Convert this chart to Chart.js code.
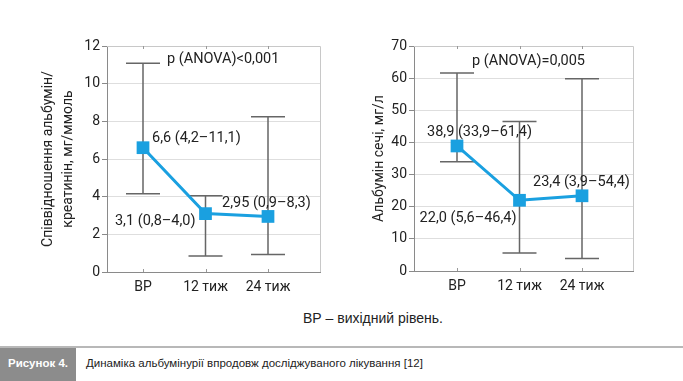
<!DOCTYPE html>
<html><head><meta charset="utf-8">
<script src="https://cdn.jsdelivr.net/npm/chart.js@4"></script>
<style>
html,body{margin:0;padding:0;background:#fff;}
#wrap{position:relative;width:683px;height:381px;overflow:hidden;background:#fff;}
canvas{position:absolute;top:0;}
#c1{left:0;} #c2{left:340px;}
.note{position:absolute;font-family:"Liberation Sans Narrow","Liberation Sans",sans-serif;color:#222;white-space:nowrap;}
</style></head><body>
<div id="wrap">
<canvas id="c1" width="340" height="300"></canvas>
<canvas id="c2" width="343" height="300"></canvas>
<div class="note" style="left:303px;top:309px;font-size:14px;line-height:18px;">ВР – вихідний рівень.</div>
<div style="position:absolute;left:0;top:346px;width:683px;height:2px;background:#b8b8b8"></div>
<div class="note" style="left:0;top:348px;width:76px;height:33px;background:#8c8c8c;color:#fff;font-weight:bold;font-size:11.5px;line-height:31px;text-align:center;">Рисунок 4.</div>
<div class="note" style="left:86px;top:348px;font-size:11.5px;line-height:31px;">Динаміка альбумінурії впродовж досліджуваного лікування [12]</div>
</div>
<script>
// ---- data ----
const categories = ['ВР', '12 тиж', '24 тиж'];
// left panel: albumin/creatinine ratio
const acrMedian = [6.6, 3.1, 2.95];
const acrLow = [4.15, 0.85, 0.93];
const acrHigh = [11.08, 4.05, 8.25];
const acrLabels = ['6,6 (4,2–11,1)', '3,1 (0,8–4,0)', '2,95 (0,9–8,3)'];
// right panel: urine albumin
const albMedian = [38.9, 22.0, 23.4];
const albLow = [34.0, 5.6, 3.9];
const albHigh = [61.6, 46.5, 59.8];
const albLabels = ['38,9 (33,9–61,4)', '22,0 (5,6–46,4)', '23,4 (3,9–54,4)'];
const acrTickMax = 12, acrTickStep = 2;
const albTickMax = 70, albTickStep = 10;
const acrTitle = ['Співвідношення альбумін/', 'креатинін, мг/ммоль'];
const albTitle = 'Альбумін сечі, мг/л';
const acrP = 'p (ANOVA)<0,001';
const albP = 'p (ANOVA)=0,005';

const BLUE = '#1aa0e0';
const TXT = '#222';
const FONT = 'Roboto, "Open Sans", sans-serif';

function makeChart(id, o) {
  const pts = categories.map((c, i) => ({x: i + 1, y: o.median[i]}));
  const plugin = {
    id: 'extras' + id,
    beforeDatasetsDraw(chart) {
      const {ctx, chartArea: a, scales: {x, y}} = chart;
      ctx.save();
      ctx.strokeStyle = '#c8c8c8'; ctx.lineWidth = 1;
      ctx.beginPath();
      ctx.moveTo(a.left, a.top + 0.5); ctx.lineTo(a.right + 0.5, a.top + 0.5);
      ctx.lineTo(a.right + 0.5, a.bottom);
      ctx.stroke();
      ctx.strokeStyle = '#999';
      categories.forEach((c, i) => {
        const px = Math.round(x.getPixelForValue(i + 1)) + 0.5;
        ctx.beginPath();
        ctx.moveTo(px, a.bottom); ctx.lineTo(px, a.bottom - 3);
        ctx.moveTo(px, a.top); ctx.lineTo(px, a.top + 3);
        ctx.stroke();
      });
      ctx.strokeStyle = '#666'; ctx.lineWidth = 1.5;
      categories.forEach((c, i) => {
        const px = x.getPixelForValue(i + 1);
        const yl = y.getPixelForValue(o.low[i]);
        const yh = y.getPixelForValue(o.high[i]);
        ctx.beginPath();
        ctx.moveTo(px, yl); ctx.lineTo(px, yh);
        ctx.moveTo(px - 17, yl); ctx.lineTo(px + 17, yl);
        ctx.moveTo(px - 17, yh); ctx.lineTo(px + 17, yh);
        ctx.stroke();
      });
      ctx.restore();
    },
    afterDatasetsDraw(chart) {
      const {ctx, scales: {x, y}} = chart;
      ctx.save();
      ctx.fillStyle = TXT;
      ctx.font = '14.5px ' + FONT;
      ctx.textBaseline = 'middle';
      ctx.textAlign = 'left';
      ctx.fillText(o.pText, o.pPos[0], o.pPos[1]);
      categories.forEach((c, i) => {
        const px = x.getPixelForValue(i + 1);
        const py = y.getPixelForValue(o.median[i]);
        const off = o.offsets[i];
        ctx.textAlign = off.align;
        ctx.fillText(o.labels[i], px + off.dx, py + off.dy);
      });
      ctx.restore();
    }
  };
  return new Chart(document.getElementById(id), {
    type: 'line',
    data: {datasets: [{
      data: pts, borderColor: BLUE, backgroundColor: BLUE, borderWidth: 3,
      pointStyle: 'rect', pointRadius: 9, pointHoverRadius: 9, pointBorderWidth: 0,
      tension: 0
    }]},
    options: {
      responsive: false, animation: false, devicePixelRatio: 1,
      layout: {padding: {left: 0, top: 46, right: o.padRight, bottom: 0}},
      plugins: {legend: {display: false}, tooltip: {enabled: false}, title: {display: false}},
      scales: {
        x: {
          type: 'linear', min: o.xMin, max: o.xMax,
          afterBuildTicks(s) { s.ticks = categories.map((c, i) => ({value: i + 1})); },
          afterFit(s) { s.height = o.xHeight; },
          grid: {display: true, drawOnChartArea: false, drawTicks: true, tickLength: 4, tickColor: 'rgba(0,0,0,0)'},
          border: {display: true, color: '#8a8a8a', width: 1},
          ticks: {padding: 3, color: TXT, font: {family: FONT, size: 14}, maxRotation: 0,
            callback: v => categories[Math.round(v) - 1] || ''}
        },
        y: {
          min: 0, max: o.yMax,
          afterFit(s) { s.width = o.yWidth; },
          grid: {color: '#dedede', lineWidth: 1, drawTicks: true, tickLength: 5, tickColor: '#8a8a8a'},
          border: {display: true, color: '#8a8a8a', width: 1},
          ticks: {stepSize: o.yStep, padding: 2, color: TXT, font: {family: FONT, size: 14}},
          title: {display: true, text: o.title, color: TXT, font: {family: FONT, size: 14, lineHeight: 1.4},
            padding: {top: o.titlePad, bottom: 0}}
        }
      }
    },
    plugins: [plugin]
  });
}

makeChart('c1', {
  median: acrMedian, low: acrLow, high: acrHigh, labels: acrLabels,
  yMax: acrTickMax, yStep: acrTickStep, title: acrTitle, pText: acrP,
  xMin: 0.424, xMax: 3.832, padRight: 20, yWidth: 107, xHeight: 28, titlePad: 39,
  pPos: [167, 59],
  offsets: [{dx: 9, dy: -9, align: 'left'}, {dx: -10, dy: 8, align: 'right'}, {dx: -46, dy: -13, align: 'left'}]
});
makeChart('c2', {
  median: albMedian, low: albLow, high: albHigh, labels: albLabels,
  yMax: albTickMax, yStep: albTickStep, title: albTitle, pText: albP,
  xMin: 0.312, xMax: 3.816, padRight: 50, yWidth: 74, xHeight: 29, titlePad: 30,
  pPos: [132, 61],
  offsets: [{dx: -30, dy: -14, align: 'left'}, {dx: -3, dy: 18, align: 'right'}, {dx: -49, dy: -13, align: 'left'}]
});
</script>
</body></html>
